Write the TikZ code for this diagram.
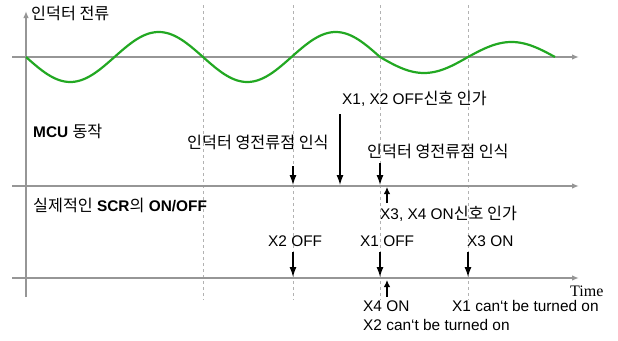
\documentclass[tikz,border=0pt]{standalone}
\usepackage{fontspec}
\setmainfont{Liberation Sans}
\newfontfamily\kr{Noto Sans CJK KR}
\newfontfamily\tms{Liberation Serif}
\newcommand{\krs}{\kr\fontsize{16.2}{18}\selectfont}
\usetikzlibrary{arrows.meta}
\definecolor{axgray}{RGB}{150,150,150}
\definecolor{dashgray}{RGB}{178,178,178}
\definecolor{wavegreen}{RGB}{34,168,34}
\begin{document}
\begin{tikzpicture}[x=1pt,y=-1pt,
  axisline/.style={draw=axgray, line width=1.8pt, -{Latex[length=7pt,width=5.5pt]}},
  vaxis/.style={draw=axgray, line width=1.5pt, -{Latex[length=7pt,width=5.5pt]}},
  guide/.style={draw=dashgray, line width=1pt, dash pattern=on 3pt off 3pt},
  wave/.style={draw=wavegreen, line width=2.2pt},
  sig/.style={draw=black, line width=1.3pt, -{Latex[length=10pt,width=7pt]}},
  sigup/.style={draw=black, line width=1.3pt, -{Latex[length=7pt,width=6.5pt]}},
  lbl/.style={inner sep=0pt, anchor=west, font=\fontsize{15.4}{17}\selectfont, text height=11pt, text depth=3pt},
  klbl/.style={lbl, font=\krs}
]
\useasboundingbox (0,0) rectangle (618,340);
% guides
\foreach \gx/\gn in {203/g1,293/g2,380/g3,468/g4}{
  \coordinate (\gn t) at (\gx,5);
  \coordinate (\gn b) at (\gx,300);
  \draw[guide] (\gn t) -- (\gn b);
}
% axes
\coordinate (vb) at (26,297);
\coordinate (vt) at (26,11);
\draw[vaxis] (vb) -- (vt);
\coordinate (h1s) at (12,57);   \coordinate (h1e) at (579,57);
\coordinate (h2s) at (12,186);  \coordinate (h2e) at (579,186);
\coordinate (h3s) at (12,278);  \coordinate (h3e) at (579,278);
\draw[axisline] (h1s) -- (h1e);
\draw[axisline] (h2s) -- (h2e);
\draw[axisline] (h3s) -- (h3e);
% wave
\draw[wave] plot[domain=26:380, samples=160, smooth] (\x, {57+25*sin(2.0339*(\x-26))})
  -- plot[domain=380:468, samples=50, smooth] (\x, {57+16*sin(2.04545*(\x-380))})
  -- plot[domain=468:555, samples=50, smooth] (\x, {57-15*sin(2.06897*(\x-468))});
% labels
\node[klbl] (t1) at (31,15) {인덕터 전류};
\node[lbl] (t2) at (33,133) {\textbf{MCU} {\krs 동작}};
\node[lbl] (t3) at (33,207) {{\krs 실제적인} \textbf{SCR}{\krs 의} \textbf{ON/OFF}};
\node[klbl] (t4) at (187,144) {인덕터 영전류점 인식};
\node[lbl] (t5) at (342,100) {X1, X2 OFF{\krs 신호 인가}};
\node[klbl] (t6) at (367,153) {인덕터 영전류점 인식};
\node[lbl] (t7) at (380,215) {X3, X4 ON{\krs 신호 인가}};
\node[lbl] (t8) at (268,242) {X2 OFF};
\node[lbl] (t9) at (360,242) {X1 OFF};
\node[lbl] (t10) at (467,242) {X3 ON};
\node[lbl, font=\tms\fontsize{16}{18}\selectfont] (t11) at (570,292) {Time};
\node[lbl] (t12) at (363,307) {X4 ON};
\node[lbl] (t13) at (452,307) {X1 can\symbol{96}t be turned on};
\node[lbl] (t14) at (363,326) {X2 can\symbol{96}t be turned on};
% signal arrows (down)
\coordinate (a1s) at (293,166); \coordinate (a1e) at (293,185);
\coordinate (a2s) at (340,114); \coordinate (a2e) at (340,185);
\coordinate (a3s) at (380,163); \coordinate (a3e) at (380,185);
\coordinate (a5s) at (293,252); \coordinate (a5e) at (293,277);
\coordinate (a6s) at (380,252); \coordinate (a6e) at (380,277);
\coordinate (a7s) at (468,252); \coordinate (a7e) at (468,277);
\foreach \a in {a1,a2,a3,a5,a6,a7}{
  \draw[sig] (\a s) -- (\a e);
}
% signal arrows (up)
\coordinate (a4s) at (387,203); \coordinate (a4e) at (387,187);
\coordinate (a8s) at (387,297); \coordinate (a8e) at (387,280);
\foreach \a in {a4,a8}{
  \draw[sigup] (\a s) -- (\a e);
}
\end{tikzpicture}
\end{document}
